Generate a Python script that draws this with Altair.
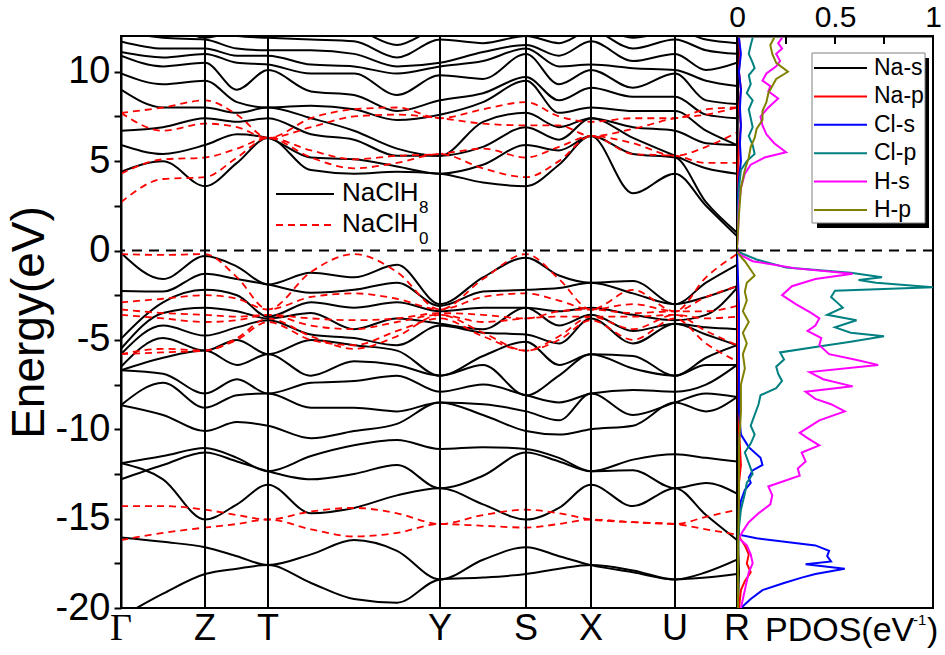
import altair as alt
import pandas as pd

FONT = "Liberation Sans"

# ---- k-path (cumulative path length, arbitrary units) ----
K_LABELS = ["Γ", "Z", "T", "Y", "S", "X", "U", "R"]
K_POS = [0, 84, 147, 319, 405, 470, 554, 616]
K_GRID = [0, 42, 84, 116, 147, 190, 233, 276, 319, 362, 405, 438, 470, 512, 554, 585, 616]

# ---- NaClH8 bands (eV), one value per K_GRID point ----
H8_COND = [
    [4.4, 5.0, 3.6, 4.9, 6.3, 4.5, 4.3, 4.4, 4.3, 3.8, 3.6, 4.8, 6.4, 3.2, 4.3, 2.5, 0.8],
    [5.9, 5.4, 5.9, 6.5, 6.3, 5.2, 5.1, 4.7, 4.3, 4.8, 5.9, 5.6, 6.4, 5.4, 5.2, 2.7, 1.0],
    [6.7, 6.9, 7.4, 7.2, 7.4, 6.5, 6.2, 5.3, 5.3, 5.8, 6.9, 6.2, 7.4, 6.3, 5.3, 4.6, 4.3],
    [9.0, 8.0, 8.0, 7.7, 8.0, 7.4, 6.7, 5.7, 5.3, 7.2, 7.7, 6.9, 7.4, 6.9, 6.7, 6.0, 5.9],
    [9.9, 9.3, 9.5, 8.3, 8.0, 8.1, 7.9, 7.3, 7.6, 8.3, 9.5, 7.7, 8.0, 7.8, 7.8, 6.7, 5.9],
    [10.9, 10.3, 10.5, 9.0, 10.1, 8.9, 8.7, 7.8, 8.4, 8.8, 9.7, 8.4, 9.1, 8.6, 8.6, 7.6, 7.4],
    [11.1, 10.8, 11.0, 10.5, 10.4, 9.9, 9.9, 8.7, 9.8, 9.6, 11.0, 9.3, 10.1, 9.1, 9.9, 8.4, 8.2],
    [11.7, 11.3, 11.3, 10.9, 10.9, 10.4, 10.3, 9.9, 10.3, 10.6, 11.3, 10.3, 10.4, 10.2, 10.1, 9.5, 9.2],
    [12.3, 11.9, 11.8, 11.3, 11.2, 11.2, 11.0, 10.3, 10.5, 11.1, 11.5, 10.9, 11.7, 10.6, 11.0, 10.1, 10.5],
    [12.8, 12.5, 12.5, 12.0, 11.9, 11.8, 11.7, 10.8, 11.8, 11.6, 12.0, 11.6, 12.3, 11.3, 11.8, 11.2, 11.0],
    [13.2, 12.9, 11.9, 12.3, 12.4, 12.2, 12.3, 11.5, 12.4, 12.2, 12.4, 12.2, 12.6, 11.9, 12.3, 11.8, 11.6],
]
H8_VALENCE = [
    [-0.13, -1.6, -0.31, -0.9, -1.9, -1.24, -1.5, -0.8, -3.0, -1.5, -0.4, -1.4, -1.8, -1.7, -3.0, -1.8, -0.8],
    [-2.26, -2.3, -1.3, -1.6, -1.9, -2.36, -2.2, -1.8, -3.1, -2.3, -2.2, -2.1, -1.8, -2.4, -3.0, -2.6, -2.0],
    [-4.94, -2.9, -2.2, -2.5, -3.7, -2.9, -3.2, -2.9, -3.4, -3.2, -3.2, -3.4, -3.2, -3.6, -3.9, -3.6, -2.1],
    [-5.5, -3.5, -3.2, -3.4, -3.8, -3.5, -4.4, -3.8, -4.1, -4.4, -3.2, -4.2, -3.6, -4.5, -4.1, -4.3, -4.4],
    [-5.8, -4.2, -4.76, -4.3, -3.9, -4.7, -4.9, -5.3, -4.2, -4.6, -4.7, -5.2, -3.8, -5.2, -4.1, -4.7, -5.3],
    [-6.5, -4.9, -5.6, -5.0, -5.8, -5.0, -5.3, -5.6, -7.0, -5.9, -5.1, -6.4, -5.8, -5.9, -7.0, -6.0, -5.3],
    [-6.7, -6.0, -5.6, -6.4, -5.8, -7.0, -6.2, -6.4, -7.0, -6.4, -8.1, -7.0, -5.8, -6.6, -7.0, -6.4, -6.4],
    [-6.7, -6.9, -8.0, -7.2, -8.0, -7.4, -7.3, -7.0, -7.9, -7.5, -8.1, -8.5, -8.0, -7.8, -7.9, -7.5, -6.4],
    [-8.65, -7.4, -8.8, -8.1, -8.0, -8.8, -8.8, -9.0, -8.5, -8.6, -9.0, -9.5, -8.0, -9.2, -8.5, -8.0, -8.2],
    [-8.65, -9.2, -10.1, -9.6, -9.8, -10.5, -10.1, -9.7, -8.5, -9.2, -10.1, -10.3, -10.0, -9.8, -8.5, -9.0, -8.2],
]
H8_DEEP = [
    [-11.9, -11.5, -11.05, -11.6, -12.35, -11.5, -10.9, -10.6, -11.1, -11.0, -11.1, -11.6, -12.35, -11.7, -11.4, -11.6, -11.8],
    [-12.8, -12.0, -11.3, -11.8, -12.35, -12.8, -12.5, -12.0, -13.3, -12.6, -11.3, -11.8, -12.35, -12.3, -13.3, -13.0, -13.6],
    [-11.9, -12.8, -15.05, -14.2, -13.1, -14.7, -14.4, -13.7, -13.3, -14.2, -15.05, -14.4, -13.1, -14.3, -13.3, -14.8, -16.2],
    [-16.05, -16.3, -16.6, -17.1, -17.6, -17.0, -16.2, -16.8, -18.4, -17.3, -16.6, -17.1, -17.6, -18.0, -18.4, -18.0, -17.3],
    [-20.5, -19.2, -18.1, -17.8, -17.6, -18.6, -19.5, -19.7, -18.4, -18.3, -18.1, -17.8, -17.6, -17.9, -18.4, -18.3, -18.1],
]

# ---- NaClH0 bands (eV) ----
H0_COND = [
    [2.7, 4.0, 4.1, 5.2, 6.3, 5.2, 4.6, 4.9, 5.4, 4.6, 4.1, 5.0, 6.4, 5.4, 5.3, 4.9, 4.9],
    [4.3, 5.1, 5.2, 5.7, 6.3, 5.6, 5.1, 5.3, 5.4, 5.7, 5.2, 5.8, 6.4, 6.0, 5.3, 5.8, 6.6],
    [7.7, 6.7, 7.1, 6.9, 6.3, 6.9, 7.5, 7.6, 7.4, 7.1, 7.0, 7.0, 6.4, 6.8, 7.4, 7.6, 8.0],
    [7.7, 8.0, 8.4, 7.6, 6.3, 7.4, 7.9, 8.0, 7.4, 7.9, 8.3, 7.5, 7.2, 7.4, 7.4, 7.9, 8.0],
]
H0_VALENCE = [
    [-0.2, -0.25, -0.2, -1.5, -3.3, -1.2, -0.2, -1.2, -3.3, -1.6, -0.2, -1.6, -3.3, -2.2, -3.4, -1.5, -0.2],
    [-2.9, -2.7, -2.5, -2.7, -3.3, -2.6, -2.4, -2.7, -3.3, -2.6, -2.4, -2.8, -3.3, -3.0, -3.4, -2.6, -2.0],
    [-3.3, -3.5, -3.6, -3.7, -3.6, -3.8, -3.9, -3.8, -3.5, -3.6, -3.8, -3.4, -3.3, -3.5, -3.4, -3.4, -3.1],
    [-3.6, -3.8, -4.0, -3.9, -3.6, -4.2, -4.4, -4.0, -3.6, -4.0, -3.8, -3.7, -3.7, -3.7, -3.6, -3.8, -3.7],
    [-5.8, -5.5, -5.6, -4.9, -3.8, -4.8, -5.5, -4.8, -3.6, -4.6, -5.6, -4.8, -3.7, -4.4, -3.6, -4.5, -5.3],
    [-5.8, -5.7, -5.6, -5.0, -4.0, -5.0, -5.3, -4.5, -3.8, -4.8, -5.6, -5.0, -3.9, -5.0, -3.8, -5.2, -6.2],
]
H0_DEEP = [
    [-14.3, -14.3, -14.5, -14.8, -15.05, -14.6, -14.4, -14.7, -15.3, -14.8, -14.5, -14.7, -15.05, -15.2, -15.3, -14.9, -14.5],
    [-16.2, -15.8, -15.5, -15.3, -15.05, -15.6, -16.0, -15.8, -15.3, -15.4, -15.5, -15.3, -15.05, -15.2, -15.3, -15.6, -15.9],
]

# ---- projected DOS, (energy eV, states/eV) ----
NA_S = [(11.9, 0.005), (8.0, 0.005), (4.0, 0.0), (0.2, 0.0), (-0.1, 0.0), (-10.0, 0.003),
        (-16.0, 0.005), (-18.0, 0.01), (-20.0, 0.005)]
NA_P = [(11.9, 0.01), (11.0, 0.015), (10.0, 0.01), (9.0, 0.02), (8.0, 0.01), (7.0, 0.02), (6.0, 0.01),
        (4.0, 0.005), (0.2, 0.0), (-0.1, 0.0), (-5.0, 0.005), (-10.0, 0.01), (-12.0, 0.02), (-13.0, 0.01),
        (-15.0, 0.01), (-16.0, 0.01), (-16.5, 0.04), (-17.0, 0.06), (-17.5, 0.05), (-18.0, 0.07),
        (-18.5, 0.04), (-19.0, 0.02), (-20.0, 0.01)]
CL_S = [(11.9, 0.01), (11.0, 0.02), (10.0, 0.01), (9.0, 0.02), (8.0, 0.015), (7.0, 0.02), (6.0, 0.015),
        (5.0, 0.02), (4.0, 0.01), (2.0, 0.0), (0.2, 0.0), (-0.1, 0.0), (-3.0, 0.01), (-6.0, 0.01),
        (-9.0, 0.01), (-10.3, 0.02), (-11.0, 0.06), (-11.6, 0.12), (-12.0, 0.13), (-12.3, 0.08),
        (-12.7, 0.06), (-13.0, 0.07), (-13.4, 0.04), (-14.0, 0.02), (-15.0, 0.01), (-15.9, 0.01),
        (-16.1, 0.10), (-16.5, 0.40), (-16.8, 0.47), (-17.1, 0.46), (-17.4, 0.48), (-17.55, 0.35),
        (-17.8, 0.55), (-18.1, 0.40), (-18.3, 0.33), (-18.6, 0.24), (-19.0, 0.13), (-19.5, 0.07),
        (-20.0, 0.02)]
CL_P = [(11.9, 0.08), (11.5, 0.07), (11.0, 0.06), (10.5, 0.08), (10.2, 0.09), (9.8, 0.06), (9.3, 0.07),
        (8.8, 0.05), (8.4, 0.08), (7.9, 0.06), (7.4, 0.07), (6.9, 0.08), (6.4, 0.06), (5.9, 0.08),
        (5.4, 0.09), (5.0, 0.05), (4.5, 0.02), (3.5, 0.01), (2.0, 0.005), (0.2, 0.0), (-0.1, 0.01),
        (-0.5, 0.10), (-0.95, 0.25), (-1.25, 0.58), (-1.5, 0.74), (-1.65, 0.62), (-1.8, 0.71),
        (-2.05, 1.0), (-2.25, 0.50), (-2.6, 0.48), (-3.0, 0.52), (-3.2, 0.54), (-3.6, 0.46),
        (-3.9, 0.61), (-4.3, 0.50), (-4.6, 0.58), (-4.8, 0.75), (-5.1, 0.58), (-5.4, 0.40),
        (-5.7, 0.22), (-6.1, 0.24), (-6.5, 0.20), (-6.9, 0.21), (-7.3, 0.23), (-7.7, 0.20),
        (-8.1, 0.12), (-8.6, 0.11), (-9.2, 0.09), (-9.8, 0.07), (-10.3, 0.09), (-10.8, 0.07),
        (-11.3, 0.04), (-11.9, 0.06), (-12.5, 0.08), (-13.0, 0.05), (-13.6, 0.04), (-14.5, 0.02),
        (-15.5, 0.01), (-17.0, 0.005), (-20.0, 0.0)]
H_S = [(11.9, 0.23), (11.6, 0.21), (11.3, 0.23), (11.0, 0.20), (10.6, 0.22), (10.3, 0.20), (9.9, 0.15),
       (9.5, 0.13), (9.2, 0.17), (8.9, 0.16), (8.5, 0.21), (8.0, 0.16), (7.5, 0.12), (7.0, 0.13),
       (6.5, 0.15), (6.0, 0.19), (5.5, 0.25), (5.2, 0.14), (4.8, 0.07), (4.3, 0.04), (3.5, 0.02),
       (2.5, 0.01), (1.0, 0.005), (0.2, 0.0), (-0.2, 0.01), (-0.6, 0.08), (-1.0, 0.30), (-1.3, 0.59),
       (-1.6, 0.40), (-2.0, 0.28), (-2.5, 0.23), (-3.0, 0.30), (-3.5, 0.38), (-3.8, 0.42),
       (-4.2, 0.40), (-4.5, 0.36), (-4.9, 0.43), (-5.3, 0.42), (-5.8, 0.47), (-6.1, 0.60),
       (-6.4, 0.72), (-6.8, 0.37), (-7.2, 0.44), (-7.6, 0.59), (-7.9, 0.35), (-8.3, 0.40),
       (-8.6, 0.48), (-9.0, 0.55), (-9.5, 0.42), (-10.2, 0.32), (-10.5, 0.36), (-10.9, 0.42),
       (-11.3, 0.33), (-11.8, 0.35), (-12.2, 0.31), (-12.6, 0.32), (-13.2, 0.16), (-13.7, 0.18),
       (-14.2, 0.17), (-14.7, 0.11), (-15.2, 0.06), (-15.7, 0.03), (-16.1, 0.01), (-16.5, 0.05),
       (-17.0, 0.07), (-17.5, 0.08), (-18.0, 0.06), (-18.5, 0.05), (-19.0, 0.04), (-19.5, 0.03),
       (-20.0, 0.02)]
H_P = [(11.9, 0.19), (11.5, 0.17), (11.0, 0.18), (10.5, 0.20), (10.0, 0.26), (9.6, 0.20), (9.2, 0.18),
       (8.8, 0.16), (8.3, 0.15), (7.8, 0.13), (7.3, 0.13), (6.8, 0.10), (6.3, 0.09), (5.8, 0.07),
       (5.2, 0.06), (4.5, 0.04), (3.5, 0.02), (2.0, 0.01), (0.2, 0.0), (-0.1, 0.0), (-0.6, 0.04),
       (-1.4, 0.09), (-1.8, 0.05), (-2.3, 0.04), (-2.8, 0.05), (-3.4, 0.03), (-4.0, 0.06),
       (-4.6, 0.03), (-5.2, 0.05), (-5.8, 0.03), (-6.6, 0.04), (-7.5, 0.02), (-9.0, 0.02),
       (-11.0, 0.01), (-14.0, 0.01), (-17.0, 0.005), (-20.0, 0.005)]

ORBITALS = ["Na-s", "Na-p", "Cl-s", "Cl-p", "H-s", "H-p"]
ORBITAL_DATA = [NA_S, NA_P, CL_S, CL_P, H_S, H_P]
ORBITAL_COLORS = ["#000000", "#ff0000", "#0000ff", "#008080", "#ff00ff", "#808000"]

Y_TICKS = [-20 + 2.5 * i for i in range(13)]


def band_frame(bands, tag):
    rows = []
    for i, band in enumerate(bands):
        for k, e in zip(K_GRID, band):
            rows.append({"band": f"{tag}{i}", "k": k, "E": e})
    return pd.DataFrame(rows)


df_h8 = band_frame(H8_COND + H8_VALENCE + H8_DEEP, "h8_")
df_h0 = band_frame(H0_COND + H0_VALENCE + H0_DEEP, "h0_")
df_k = pd.DataFrame({"k": K_POS, "label": K_LABELS})
df_zero = pd.DataFrame({"E": [0.0]})
one = pd.DataFrame({"o": [0]})

dos_rows = []
for name, pairs in zip(ORBITALS, ORBITAL_DATA):
    for idx, (e, p) in enumerate(pairs):
        dos_rows.append({"orbital": name, "idx": idx, "E": e, "P": p})
df_dos = pd.DataFrame(dos_rows)

W_BAND, W_DOS, H = 616, 196, 572

y_scale = alt.Scale(domain=[-20, 12], nice=False, zero=False)
k_scale = alt.Scale(domain=[K_POS[0], K_POS[-1]], nice=False, zero=False)
p_scale = alt.Scale(domain=[0, 1], nice=False, zero=False)

y_axis = alt.Axis(
    values=Y_TICKS,
    labelExpr="datum.value % 5 === 0 ? '' + datum.value : ''",
    title="Energy(eV)",
    tickSize=7,
    labelPadding=4,
    labelFontSize=38,
    titleFontSize=46,
    titlePadding=2,
    labelOverlap=False,
    grid=False,
)

Yb = alt.Y("E:Q", scale=y_scale, axis=y_axis)
Xb = alt.X("k:Q", scale=k_scale, axis=None)

# ---------------- band-structure panel ----------------
h8_lines = alt.Chart(df_h8).mark_line(
    color="black", strokeWidth=2, interpolate="monotone", clip=True
).encode(x=Xb, y=Yb, detail="band:N")

h0_lines = alt.Chart(df_h0).mark_line(
    color="#ff0000", strokeWidth=1.8, strokeDash=[7, 5], interpolate="monotone", clip=True
).encode(x=Xb, y=Yb, detail="band:N")

sym_lines = alt.Chart(df_k).mark_rule(color="black", strokeWidth=2).encode(x=Xb)

fermi = alt.Chart(df_zero).mark_rule(color="black", strokeWidth=2, strokeDash=[10, 7]).encode(y=Yb)

k_text = alt.Chart(df_k).transform_filter("datum.label != 'Γ'").mark_text(
    font=FONT, fontSize=36, baseline="middle", color="black"
).encode(x=Xb, y=alt.value(593), text="label:N")

gamma_text = alt.Chart(df_k).transform_filter("datum.label == 'Γ'").mark_text(
    font="Liberation Serif", fontSize=38, baseline="middle", color="black"
).encode(x=Xb, y=alt.value(593), text="label:N")

leg_h8_line = alt.Chart(one).mark_rule(color="black", strokeWidth=2).encode(
    x=alt.value(155), x2=alt.value(213), y=alt.value(158))
leg_h0_line = alt.Chart(one).mark_rule(color="#ff0000", strokeWidth=1.8, strokeDash=[7, 5]).encode(
    x=alt.value(155), x2=alt.value(213), y=alt.value(189))
leg_h8_text = alt.Chart(one).mark_text(
    text="NaClH", font=FONT, fontSize=26, align="left", baseline="middle").encode(
    x=alt.value(221), y=alt.value(157))
leg_h8_sub = alt.Chart(one).mark_text(
    text="8", font=FONT, fontSize=17, align="left", baseline="middle").encode(
    x=alt.value(298), y=alt.value(172))
leg_h0_text = alt.Chart(one).mark_text(
    text="NaClH", font=FONT, fontSize=26, align="left", baseline="middle").encode(
    x=alt.value(221), y=alt.value(188))
leg_h0_sub = alt.Chart(one).mark_text(
    text="0", font=FONT, fontSize=17, align="left", baseline="middle").encode(
    x=alt.value(298), y=alt.value(203))

band_panel = alt.layer(
    h8_lines, h0_lines, sym_lines, fermi, k_text, gamma_text,
    leg_h8_line, leg_h0_line, leg_h8_text, leg_h8_sub, leg_h0_text, leg_h0_sub,
).properties(width=W_BAND, height=H)

# ---------------- PDOS panel ----------------
p_axis = alt.Axis(
    orient="top",
    values=[0, 0.5, 1],
    labelExpr="datum.value == 0 ? '0' : (datum.value == 1 ? '1' : '0.5')",
    ticks=False,
    tickSize=0,
    labelPadding=4,
    labelFontSize=30,
    labelFlush=False,
    title=None,
    grid=False,
)
Xp = alt.X("P:Q", scale=p_scale, axis=p_axis)
Yp = alt.Y("E:Q", scale=y_scale, axis=None)

dos_lines = alt.Chart(df_dos).mark_line(strokeWidth=2, clip=True).encode(
    x=Xp,
    y=Yp,
    order="idx:Q",
    color=alt.Color("orbital:N", scale=alt.Scale(domain=ORBITALS, range=ORBITAL_COLORS), legend=None),
)

dos_fermi = alt.Chart(df_zero).mark_rule(color="black", strokeWidth=2, strokeDash=[10, 7]).encode(y=Yp)

dos_ticks = alt.Chart(pd.DataFrame({"P": [0.25, 0.5, 0.75]})).mark_rule(
    color="black", strokeWidth=2).encode(x=Xp, y=alt.value(0), y2=alt.value(8))

legend_shadow = alt.Chart(one).mark_rect(color="black").encode(
    x=alt.value(80), x2=alt.value(192), y=alt.value(22), y2=alt.value(192))
legend_box = alt.Chart(one).mark_rect(fill="white", stroke="#808080", strokeWidth=1).encode(
    x=alt.value(75), x2=alt.value(188), y=alt.value(17), y2=alt.value(187))

legend_layers = []
for i, (name, col) in enumerate(zip(ORBITALS, ORBITAL_COLORS)):
    row_y = 32 + i * 28.4
    legend_layers.append(
        alt.Chart(one).mark_rule(color=col, strokeWidth=2).encode(
            x=alt.value(77), x2=alt.value(130), y=alt.value(row_y)))
    legend_layers.append(
        alt.Chart(one).mark_text(text=name, font=FONT, fontSize=23, align="left", baseline="middle").encode(
            x=alt.value(137), y=alt.value(row_y)))

pdos_title = alt.Chart(one).mark_text(
    text="PDOS(eV", font=FONT, fontSize=34, align="left", baseline="middle").encode(
    x=alt.value(28), y=alt.value(595))
pdos_sup = alt.Chart(one).mark_text(
    text="-1", font=FONT, fontSize=15, align="left", baseline="middle").encode(
    x=alt.value(176), y=alt.value(584))
pdos_close = alt.Chart(one).mark_text(
    text=")", font=FONT, fontSize=34, align="left", baseline="middle").encode(
    x=alt.value(190), y=alt.value(595))

pdos_panel = alt.layer(
    dos_lines, dos_fermi, dos_ticks, legend_shadow, legend_box, *legend_layers,
    pdos_title, pdos_sup, pdos_close,
).properties(width=W_DOS, height=H)

chart = alt.hconcat(band_panel, pdos_panel, spacing=0, bounds="flush").properties(
    padding={"left": 5, "top": 1, "right": 2, "bottom": 2},
).configure_view(
    stroke="black", strokeWidth=2
).configure_axis(
    domainColor="black",
    domainWidth=2,
    tickColor="black",
    tickWidth=2,
    labelColor="black",
    titleColor="black",
    labelFont=FONT,
    titleFont=FONT,
    titleFontWeight="normal",
)

chart.save("out.html", embed_options={"renderer": "svg", "actions": False})
